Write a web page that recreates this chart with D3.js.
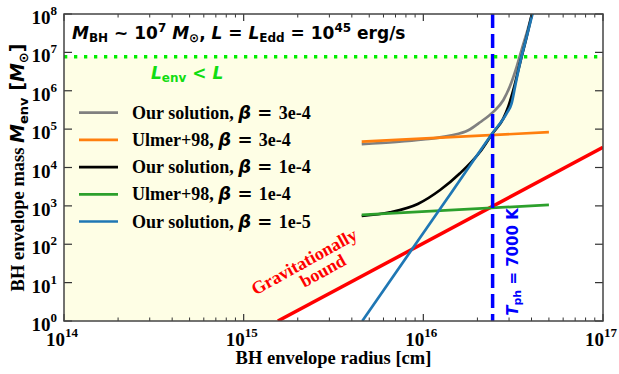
<!DOCTYPE html>
<html>
<head>
<meta charset="utf-8">
<script src="https://cdn.jsdelivr.net/npm/d3@7"></script>
<style>
  body { margin: 0; background: #fff; }
  .serif { font-family: "Liberation Serif", "Times New Roman", serif; font-weight: bold; }
  .sans { font-family: "DejaVu Sans", sans-serif; font-weight: bold; }
</style>
</head>
<body>
<div id="container"></div>
<script>
// ---- data ----
var xTickValues = [1e14, 1e15, 1e16, 1e17];
var xTickExps = ["14", "15", "16", "17"];
var yTickValues = [1, 1e1, 1e2, 1e3, 1e4, 1e5, 1e6, 1e7, 1e8];
var yTickExps = ["0", "1", "2", "3", "4", "5", "6", "7", "8"];

// Our solution, beta = 3e-4 (gray)
var rOurs3 = [4.54e15, 7.08e15, 1.0e16, 1.41e16, 1.78e16, 2.07e16, 2.45e16, 2.79e16, 3.03e16, 3.31e16, 3.52e16, 3.76e16, 4.01e16, 4.17e16];
var mOurs3 = [4.07e4, 4.62e4, 5.37e4, 6.76e4, 9.33e4, 1.51e5, 2.82e5, 5.75e5, 1.29e6, 4.27e6, 1.15e7, 3.16e7, 9.33e7, 2e8];
// Ulmer+98, beta = 3e-4 (orange)
var rUlmer3 = [4.54e15, 5e16];
var mUlmer3 = [4.73e4, 8.32e4];
// Our solution, beta = 1e-4 (black)
var rOurs1 = [4.54e15, 6.52e15, 9.31e15, 1.24e16, 1.60e16, 2.07e16, 2.43e16, 2.79e16, 2.97e16, 3.17e16, 3.45e16, 3.76e16, 4.01e16, 4.17e16];
var mOurs1 = [545, 681, 1.12e3, 2.59e3, 7.06e3, 2.58e4, 7.78e4, 1.91e5, 3.84e5, 1.05e6, 5.19e6, 2.56e7, 9.42e7, 2e8];
// Ulmer+98, beta = 1e-4 (green)
var rUlmer1 = [4.54e15, 5e16];
var mUlmer1 = [583, 1.06e3];
// Our solution, beta = 1e-5 (blue)
var rOurs5 = [4.57e15, 8.61e15, 1.35e16, 2.43e16, 2.91e16, 3.10e16, 3.24e16, 3.45e16, 3.76e16, 4.06e16, 4.22e16];
var mOurs5 = [1, 71.8, 1.48e3, 7.94e4, 2.58e5, 4.71e5, 1.28e6, 5.19e6, 2.56e7, 1.04e8, 2e8];
// gravitationally bound limit (red)
var rBound = [1.55e15, 1e17];
var mBound = [1, 3.35e4];
// L_env = L limit and photosphere radius
var mLenv = 7.7e6;
var rTph = 2.43e16;

var legendNames = ["Our solution,", "Ulmer+98,", "Our solution,", "Ulmer+98,", "Our solution,"];
var legendBetas = ["3e-4", "3e-4", "1e-4", "1e-4", "1e-5"];

// ---- layout ----
var W = 619, H = 374;
var margin = { top: 14, right: 16, bottom: 53, left: 64 };
var width = W - margin.left - margin.right,
  height = H - margin.top - margin.bottom;

var x = d3.scaleLog().domain([1e14, 1e17]).range([0, width]);
var y = d3.scaleLog().domain([1, 1e8]).range([height, 0]);

var svg = d3.select("#container").append("svg")
  .attr("width", W).attr("height", H);

var g = svg.append("g")
  .attr("transform", "translate(" + margin.left + "," + margin.top + ")");

g.append("clipPath").attr("id", "clip")
  .append("rect").attr("width", width).attr("height", height);

var plot = g.append("g").attr("clip-path", "url(#clip)");

// shaded region between L_env line and the bound line
var shade = [[1e14, mLenv], [1e17, mLenv], [rBound[1], mBound[1]], [rBound[0], mBound[0]], [1e14, 1]];
plot.append("path")
  .attr("d", d3.line().x(function (d) { return x(d[0]); }).y(function (d) { return y(d[1]); })(shade) + "Z")
  .attr("fill", "#fefee5");

function drawSeries(rs, ms, color, lw) {
  var pts = rs.map(function (r, i) { return [r, ms[i]]; });
  plot.append("path")
    .attr("d", d3.line()
      .x(function (d) { return x(d[0]); })
      .y(function (d) { return y(d[1]); })
      .curve(d3.curveMonotoneX)(pts))
    .attr("fill", "none")
    .attr("stroke", color)
    .attr("stroke-width", lw);
}

drawSeries(rBound, mBound, "#ff0000", 3.5);
var seriesColors = ["#808080", "#ff7f0e", "#000000", "#2ca02c", "#1f77b4"];
drawSeries(rOurs3, mOurs3, seriesColors[0], 2.7);
drawSeries(rUlmer3, mUlmer3, seriesColors[1], 2.7);
drawSeries(rOurs1, mOurs1, seriesColors[2], 2.7);
drawSeries(rUlmer1, mUlmer1, seriesColors[3], 2.7);
drawSeries(rOurs5, mOurs5, seriesColors[4], 2.7);

// photosphere temperature line
plot.append("line")
  .attr("x1", x(rTph)).attr("x2", x(rTph))
  .attr("y1", 0).attr("y2", height)
  .attr("stroke", "#0000ff").attr("stroke-width", 3.5)
  .attr("stroke-dasharray", "14,6");

// L_env = L line
plot.append("line")
  .attr("x1", 0).attr("x2", width)
  .attr("y1", y(mLenv)).attr("y2", y(mLenv))
  .attr("stroke", "#00ee00").attr("stroke-width", 3.3)
  .attr("stroke-dasharray", "3.3,6.7");

// ---- ticks ----
var tickColor = "#333";
var minorX = [];
[1e14, 1e15, 1e16].forEach(function (d) {
  for (var k = 2; k <= 9; k++) minorX.push(d * k);
});
xTickValues.forEach(function (v) {
  g.append("line").attr("x1", x(v)).attr("x2", x(v)).attr("y1", height).attr("y2", height - 7).attr("stroke", tickColor).attr("stroke-width", 1.2);
  g.append("line").attr("x1", x(v)).attr("x2", x(v)).attr("y1", 0).attr("y2", 7).attr("stroke", tickColor).attr("stroke-width", 1.2);
});
minorX.forEach(function (v) {
  g.append("line").attr("x1", x(v)).attr("x2", x(v)).attr("y1", height).attr("y2", height - 3.5).attr("stroke", tickColor).attr("stroke-width", 1);
  g.append("line").attr("x1", x(v)).attr("x2", x(v)).attr("y1", 0).attr("y2", 3.5).attr("stroke", tickColor).attr("stroke-width", 1);
});
yTickValues.forEach(function (v) {
  g.append("line").attr("x1", 0).attr("x2", 8).attr("y1", y(v)).attr("y2", y(v)).attr("stroke", tickColor).attr("stroke-width", 1.2);
  g.append("line").attr("x1", width).attr("x2", width - 8).attr("y1", y(v)).attr("y2", y(v)).attr("stroke", tickColor).attr("stroke-width", 1.2);
});

// frame
g.append("rect").attr("width", width).attr("height", height)
  .attr("fill", "none").attr("stroke", "#444").attr("stroke-width", 1.5);

// tick labels
xTickValues.forEach(function (v, i) {
  var t = g.append("text").attr("class", "serif")
    .attr("x", x(v) - 2).attr("y", height + 25)
    .attr("text-anchor", "middle").style("font-size", "19px");
  t.append("tspan").text("10");
  t.append("tspan").attr("dy", -9).style("font-size", "13px").text(xTickExps[i]);
});
yTickValues.forEach(function (v, i) {
  var t = g.append("text").attr("class", "serif")
    .attr("x", -7).attr("y", y(v) + 10)
    .attr("text-anchor", "end").style("font-size", "19px");
  t.append("tspan").text("10");
  t.append("tspan").attr("dy", -9).style("font-size", "13px").text(yTickExps[i]);
});

// axis labels
svg.append("text").attr("class", "serif")
  .attr("x", margin.left + width / 2).attr("y", 364)
  .attr("text-anchor", "middle").style("font-size", "18.5px")
  .text("BH envelope radius [cm]");

var yl = svg.append("text").attr("class", "serif")
  .attr("transform", "translate(24," + (margin.top + height / 2) + ") rotate(-90)")
  .attr("text-anchor", "middle").style("font-size", "18.5px");
yl.append("tspan").text("BH envelope mass ");
yl.append("tspan").attr("class", "sans").style("font-style", "italic").style("font-size", "19px").text("M");
yl.append("tspan").attr("class", "sans").attr("dy", 4).style("font-size", "13px").text("env");
yl.append("tspan").attr("class", "sans").attr("dy", -4).style("font-size", "19px").text(" [");
yl.append("tspan").attr("class", "sans").style("font-style", "italic").style("font-size", "19px").text("M");
yl.append("tspan").attr("class", "sans").attr("dy", 4).style("font-size", "13px").text("\u2299");
yl.append("tspan").attr("class", "sans").attr("dy", -4).style("font-size", "19px").text("]");

// title
var tt = g.append("text").attr("class", "sans")
  .attr("x", 8).attr("y", 25).style("font-size", "17px");
tt.append("tspan").style("font-style", "italic").text("M");
tt.append("tspan").attr("dy", 3).style("font-size", "12px").text("BH");
tt.append("tspan").attr("dy", -3).text(" ~ 10");
tt.append("tspan").attr("dy", -7).style("font-size", "12px").text("7");
tt.append("tspan").attr("dy", 7).style("font-style", "italic").text(" M");
tt.append("tspan").attr("dy", 3).style("font-size", "12px").text("\u2299");
tt.append("tspan").attr("dy", -3).text(", ");
tt.append("tspan").style("font-style", "italic").text("L");
tt.append("tspan").text(" = ");
tt.append("tspan").style("font-style", "italic").text("L");
tt.append("tspan").attr("dy", 3).style("font-size", "12px").text("Edd");
tt.append("tspan").attr("dy", -3).text(" = 10");
tt.append("tspan").attr("dy", -7).style("font-size", "12px").text("45");
tt.append("tspan").attr("dy", 7).text(" erg/s");

// L_env < L
var lt = g.append("text").attr("class", "sans")
  .attr("x", 87).attr("y", 65).style("font-size", "17px").attr("fill", "#11dd11");
lt.append("tspan").style("font-style", "italic").text("L");
lt.append("tspan").attr("dy", 3).style("font-size", "12px").text("env");
lt.append("tspan").attr("dy", -3).text(" < ");
lt.append("tspan").style("font-style", "italic").text("L");

// Gravitationally bound
var gb = g.append("g").attr("transform", "translate(243,253) rotate(-29)");
gb.append("text").attr("class", "serif").attr("text-anchor", "middle")
  .style("font-size", "18px").attr("fill", "#ff0000").text("Gravitationally");
gb.append("text").attr("class", "serif").attr("text-anchor", "middle")
  .attr("x", 12).attr("y", 17)
  .style("font-size", "18px").attr("fill", "#ff0000").text("bound");

// T_ph = 7000 K
var tp = g.append("text").attr("class", "sans")
  .attr("transform", "translate(454,248) rotate(-90)")
  .attr("text-anchor", "middle").style("font-size", "15px").attr("fill", "#0000ff");
tp.append("tspan").style("font-style", "italic").text("T");
tp.append("tspan").attr("dy", 3).style("font-size", "11px").text("ph");
tp.append("tspan").attr("dy", -3).text(" = 7000 K");

// legend
legendNames.forEach(function (name, i) {
  var ly = 98.7 + i * 27.2;
  g.append("line").attr("x1", 15).attr("x2", 54).attr("y1", ly).attr("y2", ly)
    .attr("stroke", seriesColors[i]).attr("stroke-width", 2.7);
  var t = g.append("text").attr("class", "serif")
    .attr("x", 68).attr("y", ly + 6).style("font-size", "18px");
  t.append("tspan").text(name + " ");
  t.append("tspan").attr("class", "sans").style("font-style", "italic").text("\u03b2");
  t.append("tspan").attr("class", "sans").text(" =  ");
  t.append("tspan").text(legendBetas[i]);
});
</script>
</body>
</html>
